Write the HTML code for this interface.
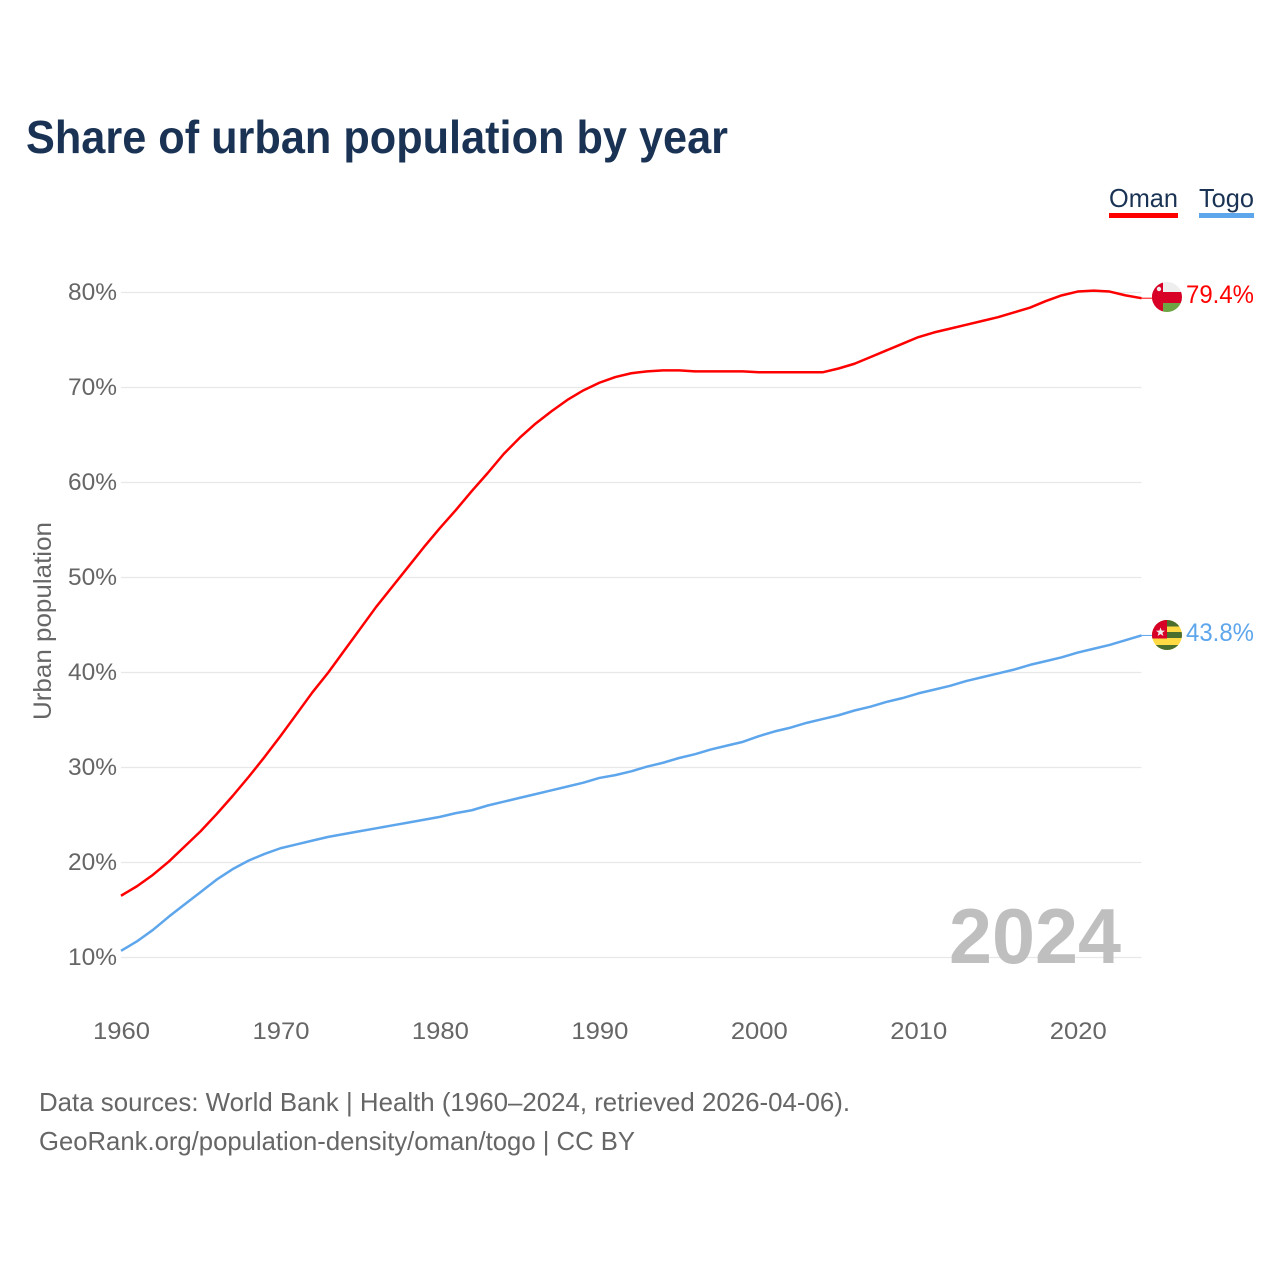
<!DOCTYPE html>
<html lang="en">
<head>
<meta charset="utf-8">
<title>Share of urban population by year</title>
<style>
html,body{margin:0;padding:0;background:#fff;width:1280px;height:1280px;overflow:hidden}
svg{display:block}
text{font-family:"Liberation Sans",sans-serif}
</style>
</head>
<body>
<svg id="chart" xmlns="http://www.w3.org/2000/svg" width="1280" height="1280" viewBox="0 0 1280 1280">
  <defs>
    <clipPath id="clip-oman"><circle cx="1167" cy="297" r="15"/></clipPath>
    <clipPath id="clip-togo"><circle cx="1167" cy="635" r="15"/></clipPath>
  </defs>
  <text x="26" y="153" font-size="46" font-weight="700" fill="#1a3354" textLength="702" lengthAdjust="spacingAndGlyphs">Share of urban population by year</text>

  <g id="grid"></g>
  <g id="y-ticks"></g>
  <g id="x-ticks"></g>

  <text transform="translate(51,621) rotate(-90)" text-anchor="middle" font-size="25" fill="#666" textLength="198" lengthAdjust="spacingAndGlyphs">Urban population</text>
  <text x="949" y="963" font-size="78" font-weight="700" fill="#bfbfbf" textLength="172" lengthAdjust="spacingAndGlyphs">2024</text>

  <polyline id="line-oman" fill="none" stroke="#ff0000" stroke-width="2.5" stroke-linejoin="round"/>
  <polyline id="line-togo" fill="none" stroke="#5ea6ec" stroke-width="2.5" stroke-linejoin="round"/>
  <line id="lead-oman" x2="1152" stroke="#ff0000" stroke-width="1"/>
  <line id="lead-togo" x2="1152" stroke="#5ea6ec" stroke-width="1"/>

  <g clip-path="url(#clip-oman)">
    <rect x="1152" y="282" width="30" height="30" fill="#eeeeee"/>
    <rect x="1152" y="292" width="30" height="11" fill="#d80027"/>
    <rect x="1163" y="303" width="19" height="9" fill="#6da544"/>
    <rect x="1152" y="282" width="11" height="30" fill="#d80027"/>
    <circle cx="1159" cy="289" r="2.2" fill="#eeeeee"/>
  </g>
  <g clip-path="url(#clip-togo)">
    <rect x="1152" y="620" width="30" height="30" fill="#ffda44"/>
    <rect x="1152" y="620" width="30" height="6.5" fill="#496e2d"/>
    <rect x="1152" y="632" width="30" height="6" fill="#496e2d"/>
    <rect x="1152" y="645" width="30" height="5" fill="#496e2d"/>
    <rect x="1152" y="620" width="15" height="18.5" fill="#d80027"/>
    <polygon points="1160.5,627.5 1161.7,630.6 1165,630.6 1162.4,632.7 1163.4,636 1160.5,634.1 1157.6,636 1158.6,632.7 1156,630.6 1159.3,630.6" fill="#eeeeee"/>
  </g>

  <text x="1186" y="303" font-size="25" fill="#ff0000" textLength="68" lengthAdjust="spacingAndGlyphs">79.4%</text>
  <text x="1186" y="641" font-size="25" fill="#5ea6ec" textLength="68" lengthAdjust="spacingAndGlyphs">43.8%</text>

  <g>
    <text x="1109" y="207" font-size="26" fill="#1a3354" textLength="69" lengthAdjust="spacingAndGlyphs">Oman</text>
    <rect x="1109" y="213" width="69" height="5" fill="#ff0000"/>
  </g>
  <g>
    <text x="1199" y="207" font-size="26" fill="#1a3354" textLength="55" lengthAdjust="spacingAndGlyphs">Togo</text>
    <rect x="1199" y="213" width="55" height="5" fill="#5ea6ec"/>
  </g>

  <text x="39" y="1111" font-size="26" fill="#666" textLength="811" lengthAdjust="spacingAndGlyphs">Data sources: World Bank | Health (1960–2024, retrieved 2026-04-06).</text>
  <text x="39" y="1150" font-size="26" fill="#666" textLength="596" lengthAdjust="spacingAndGlyphs">GeoRank.org/population-density/oman/togo | CC BY</text>
</svg>
<script>
const years = [1960,1961,1962,1963,1964,1965,1966,1967,1968,1969,1970,1971,1972,1973,1974,1975,1976,1977,1978,1979,1980,1981,1982,1983,1984,1985,1986,1987,1988,1989,1990,1991,1992,1993,1994,1995,1996,1997,1998,1999,2000,2001,2002,2003,2004,2005,2006,2007,2008,2009,2010,2011,2012,2013,2014,2015,2016,2017,2018,2019,2020,2021,2022,2023,2024];
const omanValues = [16.5,17.5,18.7,20.1,21.7,23.3,25.1,27.0,29.0,31.1,33.3,35.6,37.9,40.0,42.3,44.6,46.9,49.0,51.1,53.2,55.2,57.1,59.1,61.0,63.0,64.7,66.2,67.5,68.7,69.7,70.5,71.1,71.5,71.7,71.8,71.8,71.7,71.7,71.7,71.7,71.6,71.6,71.6,71.6,71.6,72.0,72.5,73.2,73.9,74.6,75.3,75.8,76.2,76.6,77.0,77.4,77.9,78.4,79.1,79.7,80.1,80.2,80.1,79.7,79.4];
const togoValues = [10.7,11.7,12.9,14.3,15.6,16.9,18.2,19.3,20.2,20.9,21.5,21.9,22.3,22.7,23.0,23.3,23.6,23.9,24.2,24.5,24.8,25.2,25.5,26.0,26.4,26.8,27.2,27.6,28.0,28.4,28.9,29.2,29.6,30.1,30.5,31.0,31.4,31.9,32.3,32.7,33.3,33.8,34.2,34.7,35.1,35.5,36.0,36.4,36.9,37.3,37.8,38.2,38.6,39.1,39.5,39.9,40.3,40.8,41.2,41.6,42.1,42.5,42.9,43.4,43.9];
const yTickValues = [10,20,30,40,50,60,70,80];
const yTickLabels = ["10%","20%","30%","40%","50%","60%","70%","80%"];
const xTickValues = [1960,1970,1980,1990,2000,2010,2020];
const xTickLabels = ["1960","1970","1980","1990","2000","2010","2020"];

const SVG_NS = "http://www.w3.org/2000/svg";
function xScale(year){ return 121 + (year - 1960) * (1020.5 / 64); }
function yScale(v){ return 957.5 - (v - 10) * 9.5; }
function points(values){ return values.map((v,i) => xScale(years[i]).toFixed(2) + "," + yScale(v).toFixed(2)).join(" "); }

const grid = document.getElementById("grid");
const yTicks = document.getElementById("y-ticks");
const xTicks = document.getElementById("x-ticks");

yTickValues.forEach((v,i) => {
  const l = document.createElementNS(SVG_NS,"line");
  
  
  l.setAttribute("x1", xScale(1960));
  l.setAttribute("x2", xScale(2024));
  l.setAttribute("y1", yScale(v));
  l.setAttribute("y2", yScale(v));
  l.setAttribute("stroke", "#e8e8e8");
  l.setAttribute("stroke-width", "1.3");
  grid.appendChild(l);

  const t = document.createElementNS(SVG_NS,"text");
  
  
  t.setAttribute("x", 68);
  t.setAttribute("y", yScale(v) + 7.5);
  t.setAttribute("font-size", "24.5");
  t.setAttribute("fill", "#666");
  t.setAttribute("textLength", "49");
  t.setAttribute("lengthAdjust", "spacingAndGlyphs");
  t.textContent = yTickLabels[i];
  yTicks.appendChild(t);
});

xTickValues.forEach((yr,i) => {
  const t = document.createElementNS(SVG_NS,"text");
  
  
  t.setAttribute("x", xScale(yr) + 0.5);
  t.setAttribute("y", 1039);
  t.setAttribute("font-size", "24.5");
  t.setAttribute("fill", "#666");
  t.setAttribute("text-anchor", "middle");
  t.setAttribute("textLength", "57");
  t.setAttribute("lengthAdjust", "spacingAndGlyphs");
  t.textContent = xTickLabels[i];
  xTicks.appendChild(t);
});

document.getElementById("line-oman").setAttribute("points", points(omanValues));
document.getElementById("line-togo").setAttribute("points", points(togoValues));

function connector(id, values){
  const el = document.getElementById(id);
  const last = yScale(values[values.length - 1]);
  el.setAttribute("x1", xScale(2024));
  el.setAttribute("y1", last);
  el.setAttribute("y2", last);
}
connector("lead-oman", omanValues);
connector("lead-togo", togoValues);
</script>
</body>
</html>
